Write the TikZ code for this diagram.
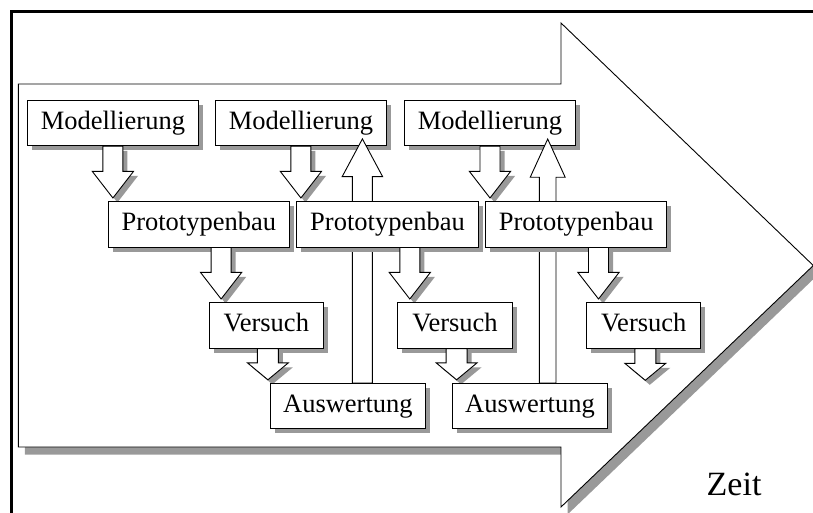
\documentclass[tikz,border=0pt]{standalone}
\usepackage{fontspec}
\setmainfont{Liberation Serif}
\usetikzlibrary{calc,shadows}

% block arrow from the level of #2 to the tip #3
% #4 half shaft width, #5 half head width, #6 head length
\newcommand\blkarrow[6]{%
  \path[#1] let \p1=(#2), \p2=(#3), \n1={sign(\y1-\y2)} in
    (\x2-#4,\y1) -- (\x2+#4,\y1) -- (\x2+#4,\y2+\n1*#6) -- (\x2+#5,\y2+\n1*#6)
    -- (\x2,\y2) -- (\x2-#5,\y2+\n1*#6) -- (\x2-#4,\y2+\n1*#6) -- cycle;}

\tikzset{
  softshadow/.style={drop shadow={shadow xshift=4.5pt, shadow yshift=-4.5pt,
      fill=black!40, opacity=1}},
  box/.style={draw=black, fill=white, line width=0.9pt, inner sep=0pt,
      minimum height=45.3pt, text height=18pt, text depth=5.2pt,
      font=\fontsize{26.5}{30}\selectfont, softshadow},
  mbox/.style={box, minimum width=170.6pt},
  pbox/.style={box, minimum width=181.3pt},
  vbox/.style={box, minimum width=114.2pt},
  abox/.style={box, minimum width=155.6pt},
  downblk/.style={draw=black, fill=white, line width=0.9pt, line join=miter, softshadow},
  upblk/.style={draw=black, fill=white, line width=0.9pt, line join=miter},
}

\begin{document}
\begin{tikzpicture}[x=1pt,y=-1pt]
\useasboundingbox (0,0) rectangle (813,513);

% frame edges
\draw[line width=3pt, line cap=rect] (813,12) -- (11,12) -- (11,513);

% time arrow
\path[draw=black, fill=white, line width=0.9pt, line join=miter,
      drop shadow={shadow xshift=6.5pt, shadow yshift=-7.5pt, fill=black!40, opacity=1}]
  (18.3,84) -- (561,84) -- (561,23) -- (813.3,265.5) -- (561,507) -- (561,447)
  -- (18.3,447) -- cycle;
\node[font=\fontsize{34}{40}\selectfont, anchor=base west, inner sep=0pt] (zeit) at (706.5,495) {Zeit};

% modelling row
\node[mbox] (M1) at (112.9,123.2) {Modellierung};
\node[mbox] (M2) at (300.9,123.2) {Modellierung};
\node[mbox] (M3) at (490.0,123.2) {Modellierung};

% prototype, test and evaluation rows (placed before the arrows that refer to them)
\path (198.8,224.4) node[pbox, draw=none, fill=none, drop shadow={opacity=0}, text opacity=0] (P1) {Prototypenbau}
      (387.5,224.4) node[pbox, draw=none, fill=none, drop shadow={opacity=0}, text opacity=0] (P2) {Prototypenbau}
      (576.2,224.4) node[pbox, draw=none, fill=none, drop shadow={opacity=0}, text opacity=0] (P3) {Prototypenbau}
      (266.3,325.5) node[vbox, draw=none, fill=none, drop shadow={opacity=0}, text opacity=0] (V1) {Versuch}
      (455.0,325.5) node[vbox, draw=none, fill=none, drop shadow={opacity=0}, text opacity=0] (V2) {Versuch}
      (643.7,325.5) node[vbox, draw=none, fill=none, drop shadow={opacity=0}, text opacity=0] (V3) {Versuch}
      (347.9,406.2) node[abox, draw=none, fill=none, drop shadow={opacity=0}, text opacity=0] (A1) {Auswertung}
      (530.0,406.2) node[abox, draw=none, fill=none, drop shadow={opacity=0}, text opacity=0] (A2) {Auswertung};

% feedback arrows: evaluation back to modelling
\coordinate (a1o) at ($(A1.north)+(14.5,0)$);
\coordinate (a2o) at ($(A2.north)+(17.7,0)$);
\blkarrow{upblk}{a1o}{$(a1o |- M2.south)+(0,-7.4)$}{10pt}{20.2pt}{37.7pt}
\blkarrow{upblk}{a2o}{$(a2o |- M3.south)+(0,-7.3)$}{8.3pt}{17.5pt}{38.3pt}

% modelling -> prototype
\blkarrow{downblk}{M1.south}{$(M1.south |- P1.north)+(0,-3.3)$}{10pt}{20.6pt}{26.6pt}
\blkarrow{downblk}{M2.south}{$(M2.south |- P2.north)+(0,-3.3)$}{10pt}{20.6pt}{26.6pt}
\blkarrow{downblk}{M3.south}{$(M3.south |- P3.north)+(0,-3.3)$}{10pt}{20.6pt}{26.6pt}

\node[pbox] at (P1) {Prototypenbau};
\node[pbox] at (P2) {Prototypenbau};
\node[pbox] at (P3) {Prototypenbau};

% prototype -> test
\coordinate (p1o) at ($(P1.south)+(22.3,0)$);
\coordinate (p2o) at ($(P2.south)+(22.3,0)$);
\coordinate (p3o) at ($(P3.south)+(22.3,0)$);
\blkarrow{downblk}{p1o}{$(p1o |- V1.north)+(0,-3.4)$}{10pt}{20.6pt}{26.6pt}
\blkarrow{downblk}{p2o}{$(p2o |- V2.north)+(0,-3.4)$}{10pt}{20.6pt}{26.6pt}
\blkarrow{downblk}{p3o}{$(p3o |- V3.north)+(0,-3.4)$}{10pt}{20.6pt}{26.6pt}

\node[vbox] at (V1) {Versuch};
\node[vbox] at (V2) {Versuch};
\node[vbox] at (V3) {Versuch};

% test -> evaluation
\coordinate (v1o) at ($(V1.south)+(1.6,0)$);
\coordinate (v2o) at ($(V2.south)+(1.6,0)$);
\coordinate (v3o) at ($(V3.south)+(1.6,0)$);
\coordinate (v3end) at ($(v3o)+(0,31.7)$);
\blkarrow{downblk}{v1o}{$(v1o |- A1.north)+(0,-3.3)$}{10.5pt}{20.5pt}{17pt}
\blkarrow{downblk}{v2o}{$(v2o |- A2.north)+(0,-3.3)$}{10.5pt}{20.5pt}{17pt}
\blkarrow{downblk}{v3o}{v3end}{10.5pt}{20.5pt}{17pt}

\node[abox] at (A1) {Auswertung};
\node[abox] at (A2) {Auswertung};
\end{tikzpicture}
\end{document}
